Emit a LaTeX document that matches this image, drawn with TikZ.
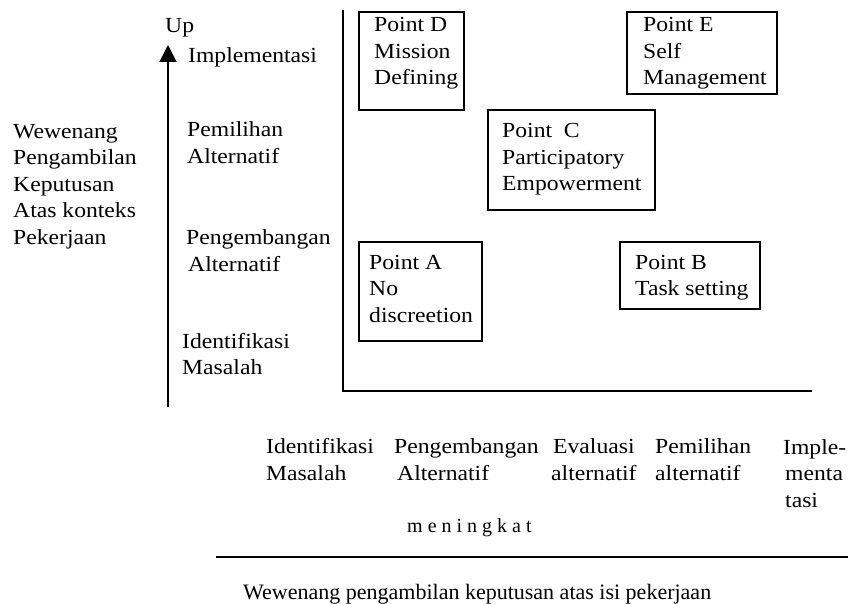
\documentclass[tikz,border=0pt]{standalone}
\usepackage{fontspec}
\setmainfont{Liberation Serif}[FakeStretch=1.1]
\newfontfamily\plainserif{Liberation Serif}
\usetikzlibrary{arrows.meta}
\tikzstyle{pointbox}=[draw, line width=1.6pt, inner sep=0]
% multi-line labels sit on the baseline of their last line
\tikzstyle{lbl}=[inner sep=0, anchor=base west, align=left, font=\fontsize{21.5}{26.5}\selectfont]
\tikzstyle{axis}=[line width=1.6pt]

\begin{document}
\begin{tikzpicture}[x=1pt,y=-1pt]
  \useasboundingbox (0,0) rectangle (848,604);

  %% Boxes
  \draw (411.5,61) node[pointbox, minimum width=105, minimum height=98] (D) {};
  \draw (702,53) node[pointbox, minimum width=150, minimum height=82] (E) {};
  \draw (571.5,160) node[pointbox, minimum width=167, minimum height=100] (C) {};
  \draw (420.5,291.5) node[pointbox, minimum width=123, minimum height=99] (A) {};
  \draw (690,275.5) node[pointbox, minimum width=140, minimum height=67] (B) {};

  \draw (374,85) node[lbl] (Dtext) {Point D\\Mission\\Defining};
  \draw (643,85) node[lbl] (Etext) {Point E\\Self\\Management};
  \draw (502,191) node[lbl] (Ctext) {Point~ C\\Participatory\\Empowerment};
  \draw (369,322) node[lbl] (Atext) {Point A\\No\\discreetion};
  \draw (635,295.5) node[lbl] (Btext) {Point B\\Task setting};

  %% Axes
  \coordinate (ytop) at (343,10);
  \coordinate (orig) at (343,391);
  \coordinate (xend) at (812,391);
  \draw[axis] (ytop) -- (orig) -- (xend);

  %% Up arrow
  \coordinate (upbot) at (168,407);
  \coordinate (uptip) at (168,45);
  \draw[axis,-{Triangle[length=17pt,width=17pt]}] (upbot) -- (uptip);
  \draw (165,33) node[lbl] (up) {Up};
  \draw (188,63) node[lbl] (y5) {Implementasi};
  \draw (187,163.5) node[lbl] (y4) {Pemilihan\\Alternatif};
  \draw (186,271) node[lbl] (y2) {Pengembangan\\\hspace{2pt}Alternatif};
  \draw (182,374.5) node[lbl] (y1) {Identifikasi\\Masalah};

  \draw (13,244) node[lbl] (ylabel) {Wewenang\\Pengambilan\\Keputusan\\Atas konteks\\Pekerjaan};

  %% Bottom scale
  \draw (266,480) node[lbl] (x1) {Identifikasi\\Masalah};
  \draw (394,480) node[lbl] (x2) {Pengembangan\\\hspace{3pt}Alternatif};
  \draw (551,480) node[lbl] (x3) {\hspace{2pt}Evaluasi\\alternatif};
  \draw (655,480) node[lbl] (x4) {Pemilihan\\alternatif};
  \draw (783,507) node[lbl] (x5) {Imple-\\\hspace{2pt}menta\\\hspace{2pt}tasi};
  \draw (407,532) node[lbl, font=\plainserif\fontsize{20}{24}\selectfont] (rise) {m e n i n g k a t};

  \coordinate (lineL) at (216,557);
  \coordinate (lineR) at (848,557);
  \draw[axis] (lineL) -- (lineR);
  \draw (243,599) node[lbl, font=\plainserif\fontsize{22}{26}\selectfont] (xlabel) {Wewenang pengambilan keputusan atas isi pekerjaan};
\end{tikzpicture}
\end{document}
